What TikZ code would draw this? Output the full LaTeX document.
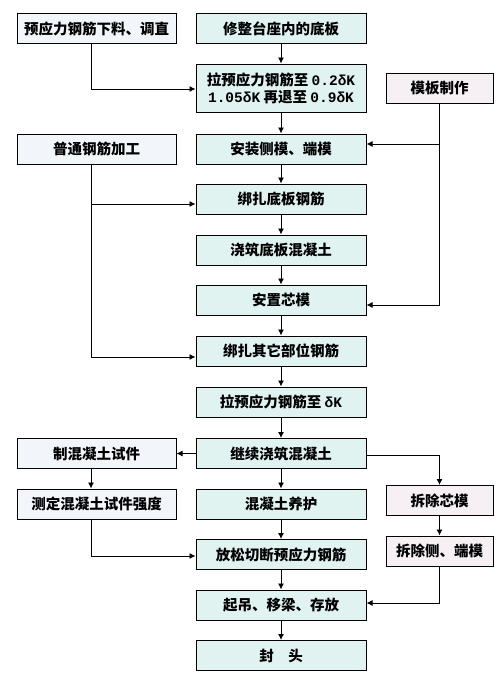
\documentclass[tikz,border=0pt]{standalone}
\usepackage{fontspec}
\usetikzlibrary{arrows.meta,positioning}
\newfontfamily\cjkfont{Noto Sans CJK SC}
\newfontfamily\monofont{Liberation Mono}
\definecolor{flowmain}{RGB}{224,243,241}
\definecolor{flowleft}{RGB}{242,245,250}
\definecolor{flowright}{RGB}{246,240,245}
\begin{document}
\begin{tikzpicture}[x=1pt,y=1pt,box/.style={draw=black,line width=1pt,minimum height=30pt,inner sep=0pt,align=center,font=\cjkfont\bfseries\fontsize{14.5}{17}\selectfont},mainbox/.style={box,fill=flowmain,minimum width=170pt},leftbox/.style={box,fill=flowleft,minimum width=159pt},rightbox/.style={box,fill=flowright,minimum width=107pt},arr/.style={-{Latex[length=6pt,width=6pt]},line width=.9pt}]
\useasboundingbox(0,0)rectangle(501,-688);

% main column
\node[mainbox](xz)at(281,-28.5){修整台座内的底板};
\node[mainbox,minimum height=48pt](la1)at(281,-88){拉预应力钢筋至 {\monofont 0.2δK}\\{\monofont 1.05δK} 再退至 {\monofont 0.9δK}};
\node[mainbox](az)at(281,-149){安装侧模、端模};
\node[mainbox](bd)at(281,-199){绑扎底板钢筋};
\node[mainbox](jd)at(281,-250){浇筑底板混凝土};
\node[mainbox](zx)at(281,-300){安置芯模};
\node[mainbox](bq)at(281,-351){绑扎其它部位钢筋};
\node[mainbox](la2)at(281,-402){拉预应力钢筋至 {\monofont δK}};
\node[mainbox](jx)at(281,-453.5){继续浇筑混凝土};
\node[mainbox](yh)at(281,-504){混凝土养护};
\node[mainbox](fs)at(281,-554.5){放松切断预应力钢筋};
\node[mainbox](qd)at(281,-605){起吊、移梁、存放};
\node[mainbox](ft)at(281,-655.5){封\hspace{1em}头};

% side columns
\node[leftbox](xl)at(96.5,-28.5){预应力钢筋下料、调直};
\node[leftbox](pt)at(96.5,-149){普通钢筋加工};
\node[leftbox](zs)at(96.5,-453.5){制混凝土试件};
\node[leftbox](cd)at(96.5,-504){测定混凝土试件强度};
\node[rightbox](mb)at(439.5,-88.5){模板制作};
\node[rightbox](cx)at(439.5,-500.5){拆除芯模};
\node[rightbox](cc)at(439.5,-551){拆除侧、端模};

\foreach \a/\b in {xz/la1,la1/az,az/bd,bd/jd,jd/zx,zx/bq,bq/la2,la2/jx,jx/yh,yh/fs,fs/qd,qd/ft}{
 \draw[arr](\a)--(\b);
}
\draw[arr]([xshift=-5.5pt]xl.south)|-([yshift=-1pt]la1.west);
\draw[arr]([xshift=-5.5pt]pt.south)|-([yshift=-5pt]bd.west);
\draw[arr]([xshift=-5.5pt]pt.south)|-([yshift=-6pt]bq.west);
\draw[arr](jx)--(zs);
\draw[arr]([xshift=-5.5pt]zs.south)--([xshift=-5.5pt]cd.north);
\draw[arr]([xshift=-5.5pt]cd.south)|-([yshift=-1.5pt]fs.west);
\draw[arr](mb.south)|-([yshift=5pt]az.east);
\draw[arr](mb.south)|-([yshift=-5pt]zx.east);
\draw[arr]([yshift=-1.5pt]jx.east)-|(cx.north);
\draw[arr](cx)--(cc);
\draw[arr](cc.south)|-([yshift=2pt]qd.east);
\end{tikzpicture}
\end{document}
